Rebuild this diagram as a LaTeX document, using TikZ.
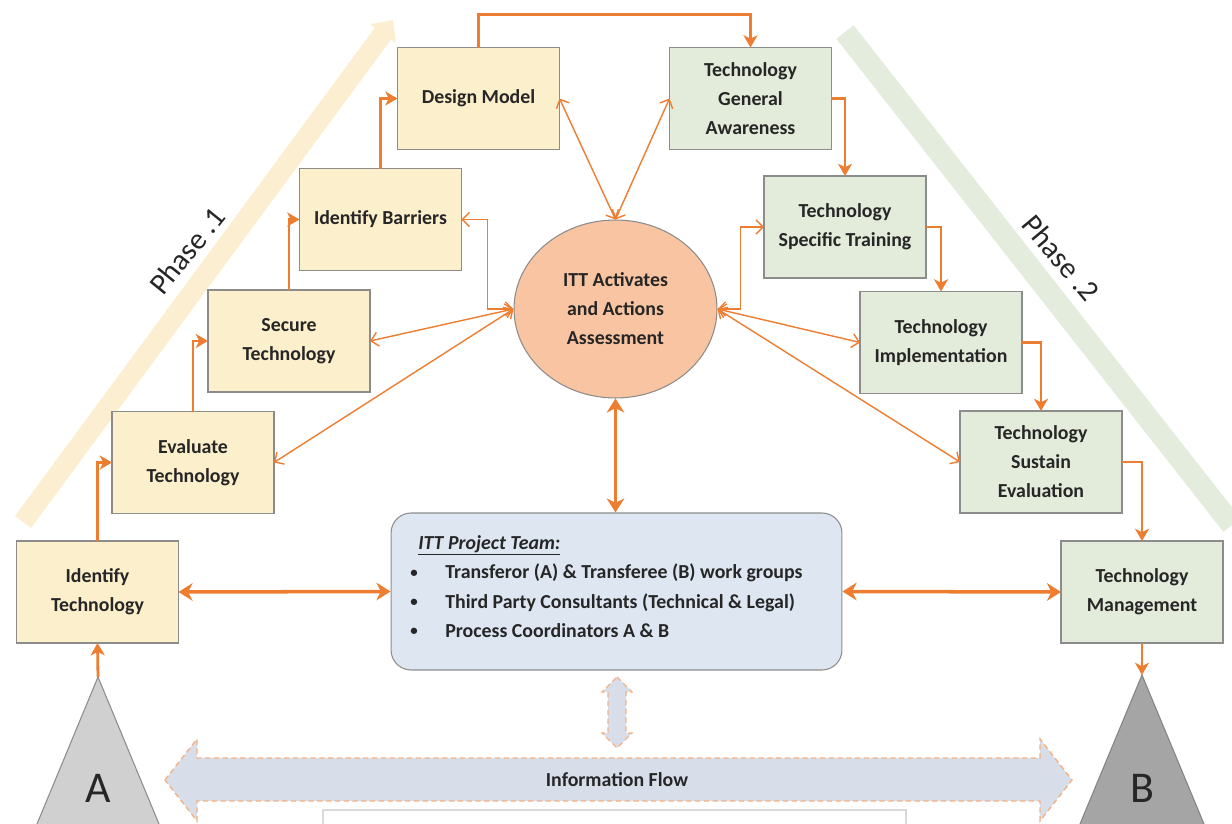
\documentclass[tikz,border=0pt]{standalone}
\usepackage{fontspec}
\setmainfont{Carlito}
\usetikzlibrary{arrows.meta,shapes.geometric}

\definecolor{ink}{HTML}{262626}
\definecolor{boxline}{HTML}{8C8C8C}
\definecolor{yelfill}{HTML}{FCEFCC}
\definecolor{grnfill}{HTML}{E3EBDA}
\definecolor{flow}{HTML}{ED7D31}
\definecolor{flowlight}{HTML}{F4B183}
\definecolor{ellfill}{HTML}{F8C4A1}
\definecolor{teamfill}{HTML}{DEE7F1}
\definecolor{infofill}{HTML}{D7DEEA}
\definecolor{triA}{HTML}{D0D0D0}
\definecolor{triB}{HTML}{A5A5A5}
\definecolor{bandA}{HTML}{FCEED0}
\definecolor{bandB}{HTML}{E4ECDD}

\newcommand{\smallbullet}{\makebox[0.72cm][l]{\hspace{0.02cm}\raisebox{0.15ex}{\scalebox{0.75}{\textbullet}}}}

\tikzset{
  stagebox/.style={draw=boxline, line width=0.6pt, minimum width=3.24cm, minimum height=2.04cm,
    inner sep=2pt, outer sep=0pt, align=center, text=ink, font=\fontsize{11.3}{16.5}\selectfont\bfseries},
  phaseA/.style={stagebox, fill=yelfill},
  phaseB/.style={stagebox, fill=grnfill},
  steplink/.style={draw=flow, line width=1.6pt, -{Stealth[length=7pt,width=8pt,inset=2pt]}},
  teamlink/.style={draw=flow, line width=2pt, {Stealth[length=8pt,width=10pt,inset=2.5pt]}-{Stealth[length=8pt,width=10pt,inset=2.5pt]}},
  assesslink/.style={draw=flow, line width=0.8pt, {Straight Barb[length=4pt,width=8pt]}-{Straight Barb[length=4pt,width=8pt]}},
  hollowarrow/.style={fill=infofill, draw=flowlight, line width=0.8pt, dash pattern=on 3pt off 2pt},
  phaselabel/.style={font=\fontsize{17}{20}\selectfont, text=ink},
  bodytext/.style={font=\fontsize{11.3}{14}\selectfont\bfseries, text=ink, inner sep=0pt},
}

\begin{document}
\begin{tikzpicture}[x=0.02cm, y=-0.02cm]
\useasboundingbox (0,0) rectangle (1232,824);

% phase bands
\draw[bandA, line width=0.4cm, -{Triangle[length=0.34cm,width=0.62cm]}] (23,522) -- (393,20);
\draw[bandB, line width=0.44cm] (845,32) -- (1232,525);
\node[phaselabel, rotate=51] (phase1) at (187,251) {Phase .1};
\node[phaselabel, rotate=-50] (phase2) at (1061,258) {Phase .2};

% stage boxes, phase 1
\node[phaseA] (it)  at (97.5,592)   {Identify\\Technology};
\node[phaseA] (et)  at (193,462.5)  {Evaluate\\Technology};
\node[phaseA] (st)  at (289,341)    {Secure\\Technology};
\node[phaseA] (ib)  at (380.5,219.5){Identify Barriers};
\node[phaseA] (dm)  at (478.5,98.5) {Design Model};

% stage boxes, phase 2
\node[phaseB] (tga) at (750.5,98.5) {Technology\\General\\Awareness};
\node[phaseB] (tst) at (845,227)    {Technology\\Specific Training};
\node[phaseB] (ti)  at (941,342.5)  {Technology\\Implementation};
\node[phaseB] (tse) at (1041,462)   {Technology\\Sustain\\Evaluation};
\node[phaseB] (tm)  at (1142,592)   {Technology\\Management};

% central assessment
\node[ellipse, draw=boxline, line width=0.6pt, fill=ellfill, minimum width=4.06cm, minimum height=3.56cm,
  align=center, text=ink, font=\fontsize{11.3}{16.5}\selectfont\bfseries] (ass) at (615.5,309)
  {ITT Activates\\and Actions\\Assessment};

% project team
\node[draw=boxline, line width=0.6pt, fill=teamfill, rounded corners=0.4cm,
  minimum width=9.02cm, minimum height=3.14cm] (team) at (616.5,591.5) {};
\node[bodytext, anchor=base west] (teamhead) at (418,549) {\underline{\textit{ITT Project Team:}}};
\node[bodytext, anchor=base west] (teamA) at (409,579) {\smallbullet Transferor (A) \& Transferee (B) work groups};
\node[bodytext, anchor=base west] (teamB) at (409,608) {\smallbullet Third Party Consultants (Technical \& Legal)};
\node[bodytext, anchor=base west] (teamC) at (409,637) {\smallbullet Process Coordinators A \& B};

% parties A and B
\coordinate (apexA) at (98,677);
\coordinate (apexB) at (1142,675);
\draw[fill=triA, draw=boxline, line width=0.6pt] (37,824) -- (apexA) -- (159,824);
\draw[fill=triB, draw=triB!80!black, line width=0.6pt] (1080,824) -- (apexB) -- (1204,824);
\node[font=\fontsize{25}{30}\selectfont, text=ink] (labA) at (98,788) {A};
\node[font=\fontsize{25}{30}\selectfont, text=ink] (labB) at (1142,788) {B};

% information flow
\draw[hollowarrow] (165,780) -- (197,739) -- (197,758) -- (1040,758) -- (1040,739) -- (1072,780)
  -- (1040,821) -- (1040,801) -- (197,801) -- (197,821) -- cycle;
\node[bodytext] (info) at (617,780) {Information Flow};
\draw[hollowarrow] (617,677) -- (632,692) -- (626,692) -- (626,733) -- (632,733) -- (617,748)
  -- (602,733) -- (608,733) -- (608,692) -- (602,692) -- cycle;
\draw[draw=black!15, fill=white, line width=0.6pt] (323,825) -- (323,810) -- (906,810) -- (906,825);

% process sequence
\draw[steplink] (apexA) -- (it.south);
\draw[steplink] (it.north) |- (et.west);
\draw[steplink] (et.north) |- (st.west);
\draw[steplink] (st.north) |- (ib.west);
\draw[steplink] (ib.north) |- (dm.west);
\draw[steplink] (dm.north) -- ++(0,-33) -| (tga.north);
\draw[steplink] (tga.east) -| (tst.north);
\draw[steplink] (tst.east) -| (ti.north);
\draw[steplink] (ti.east) -| (tse.north);
\draw[steplink] (tse.east) -| (tm.north);
\draw[steplink] (tm.south) -- (apexB);

% project team links
\draw[teamlink] (it.east) -- (team.west);
\draw[teamlink] (team.east) -- (tm.west);
\draw[teamlink] (ass.south) -- (ass.south |- team.north);

% assessment links
\draw[assesslink] (ass.west) -- ++(-26,0) |- (ib.east);
\draw[assesslink] (ass.west) -- (st.east);
\draw[assesslink] (ass.west) -- (et.east);
\draw[assesslink] (ass.north) -- (dm.east);
\draw[assesslink] (ass.north) -- (tga.west);
\draw[assesslink] (ass.east) -- ++(23,0) |- (tst.west);
\draw[assesslink] (ass.east) -- (ti.west);
\draw[assesslink] (ass.east) -- (tse.west);
\end{tikzpicture}
\end{document}
